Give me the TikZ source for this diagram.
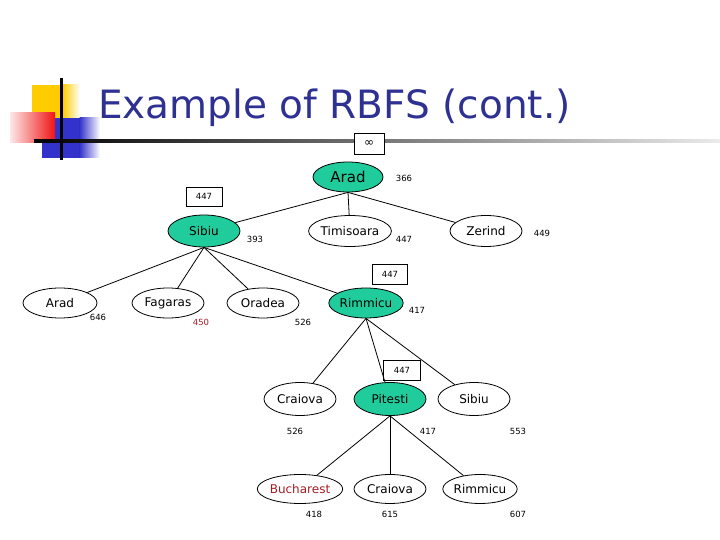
\documentclass[tikz,border=0pt]{standalone}
\usepackage{fontspec}
\setmainfont{DejaVu Sans}
\usetikzlibrary{shapes.geometric}
\definecolor{teal1}{RGB}{32,204,156}
\definecolor{ttlblue}{RGB}{46,49,146}
\definecolor{dred}{RGB}{165,28,36}
\definecolor{ylw}{RGB}{255,204,0}
\definecolor{blu}{RGB}{51,51,204}
\definecolor{rd}{RGB}{240,20,20}
\begin{document}
\begin{tikzpicture}[x=1pt,y=-1pt,
  city/.style={ellipse,draw,line width=0.8pt,minimum width=72pt,minimum height=31pt,inner sep=0pt,font=\fontsize{12}{12}\selectfont},
  open/.style={city,fill=teal1},
  num/.style={font=\fontsize{8.5}{9}\selectfont,inner sep=0pt},
  fbox/.style={draw,line width=0.6pt,fill=white,minimum width=36pt,minimum height=20pt,inner sep=0pt,font=\fontsize{8.5}{9}\selectfont},
  edge/.style={line width=0.8pt}]
\useasboundingbox (0,0) rectangle (720,540);
% decoration
\fill[ylw] (32,85) rectangle (63,118);
\shade[left color=ylw, right color=white] (62.5,85) rectangle (80,118);
\fill[blu] (42,118) rectangle (80,158);
\shade[left color=blu, right color=white] (79.5,118) rectangle (100,158);
\shade[left color=rd!10, right color=rd] (10,113) rectangle (55,143);
\shade[left color=black, right color=black!8] (34,139.5) rectangle (720,142.5);
\fill[black] (59.5,78) rectangle (62.5,160);
% title
\node[anchor=base west, text=ttlblue, font=\fontsize{39}{39}\selectfont, inner sep=0pt] (title) at (98,119) {Example of RBFS (cont.)};
% level 0
\node[fbox, minimum width=30pt, minimum height=21pt, font=\fontsize{12}{12}\selectfont] (inf) at (369,143.5) {∞};
\node[open, minimum width=70pt, minimum height=30pt, font=\fontsize{15}{15}\selectfont] (arad) at (348,177) {Arad};
\node[num] (f366) at (404,178) {366};
% level 1
\node[fbox, minimum height=19pt] (b1) at (204,196.5) {447};
\node[open, minimum height=32pt] (sibiu) at (204,231) {Sibiu};
\node[num] (f393) at (255,239) {393};
\node[city, minimum width=66pt] (tim) at (350,231) {Timisoara};
\node[num] (f447a) at (404,239) {447};
\node[city] (zer) at (486,231) {Zerind};
\node[num] (f449) at (542,233) {449};
% level 2
\node[city, minimum width=74pt, minimum height=30pt] (arad2) at (60,303) {Arad};
\node[num] (f646) at (98,317) {646};
\node[city, minimum height=30pt] (fag) at (168,303) {Fagaras};
\node[num, text=dred] (f450) at (201,322) {450};
\node[city, minimum height=30pt] (ora) at (263,303) {Oradea};
\node[num] (f526a) at (303,322) {526};
\node[open, minimum height=30pt] (rim) at (366,303) {Rimmicu};
\node[num] (f417a) at (417,310) {417};
\node[fbox, minimum width=35pt] (b2) at (390,274) {447};
% level 3
\node[city, minimum height=33pt] (cra) at (300,399) {Craiova};
\node[num] (f526b) at (295,431) {526};
\node[open, minimum height=33pt] (pit) at (390,399) {Pitesti};
\node[fbox, minimum width=37pt] (b3) at (402,370) {447};
\node[num] (f417b) at (428,431) {417};
\node[city, minimum height=33pt] (sib2) at (474,399) {Sibiu};
\node[num] (f553) at (518,431) {553};
% level 4
\node[city, minimum height=29pt, text=dred] (buch) at (300,489) {Bucharest};
\node[num] (f418) at (314,514) {418};
\node[city, minimum height=29pt] (cra2) at (390,489) {Craiova};
\node[num] (f615) at (390,514) {615};
\node[city, minimum height=29pt] (rim2) at (480,489) {Rimmicu};
\node[num] (f607) at (518,514) {607};
% edges
\draw[edge] (arad.south) -- (sibiu);
\draw[edge] (arad.south) -- (tim);
\draw[edge] (arad.south) -- (zer);
\draw[edge] (sibiu.south) -- (arad2);
\draw[edge] (sibiu.south) -- (fag);
\draw[edge] (sibiu.south) -- (ora);
\draw[edge] (sibiu.south) -- (rim);
\draw[edge] (rim.south) -- (cra);
\draw[edge] (rim.south) -- (pit);
\draw[edge] (rim.south) -- (sib2);
\draw[edge] (pit.south) -- (buch);
\draw[edge] (pit.south) -- (cra2);
\draw[edge] (pit.south) -- (rim2);
\end{tikzpicture}
\end{document}
